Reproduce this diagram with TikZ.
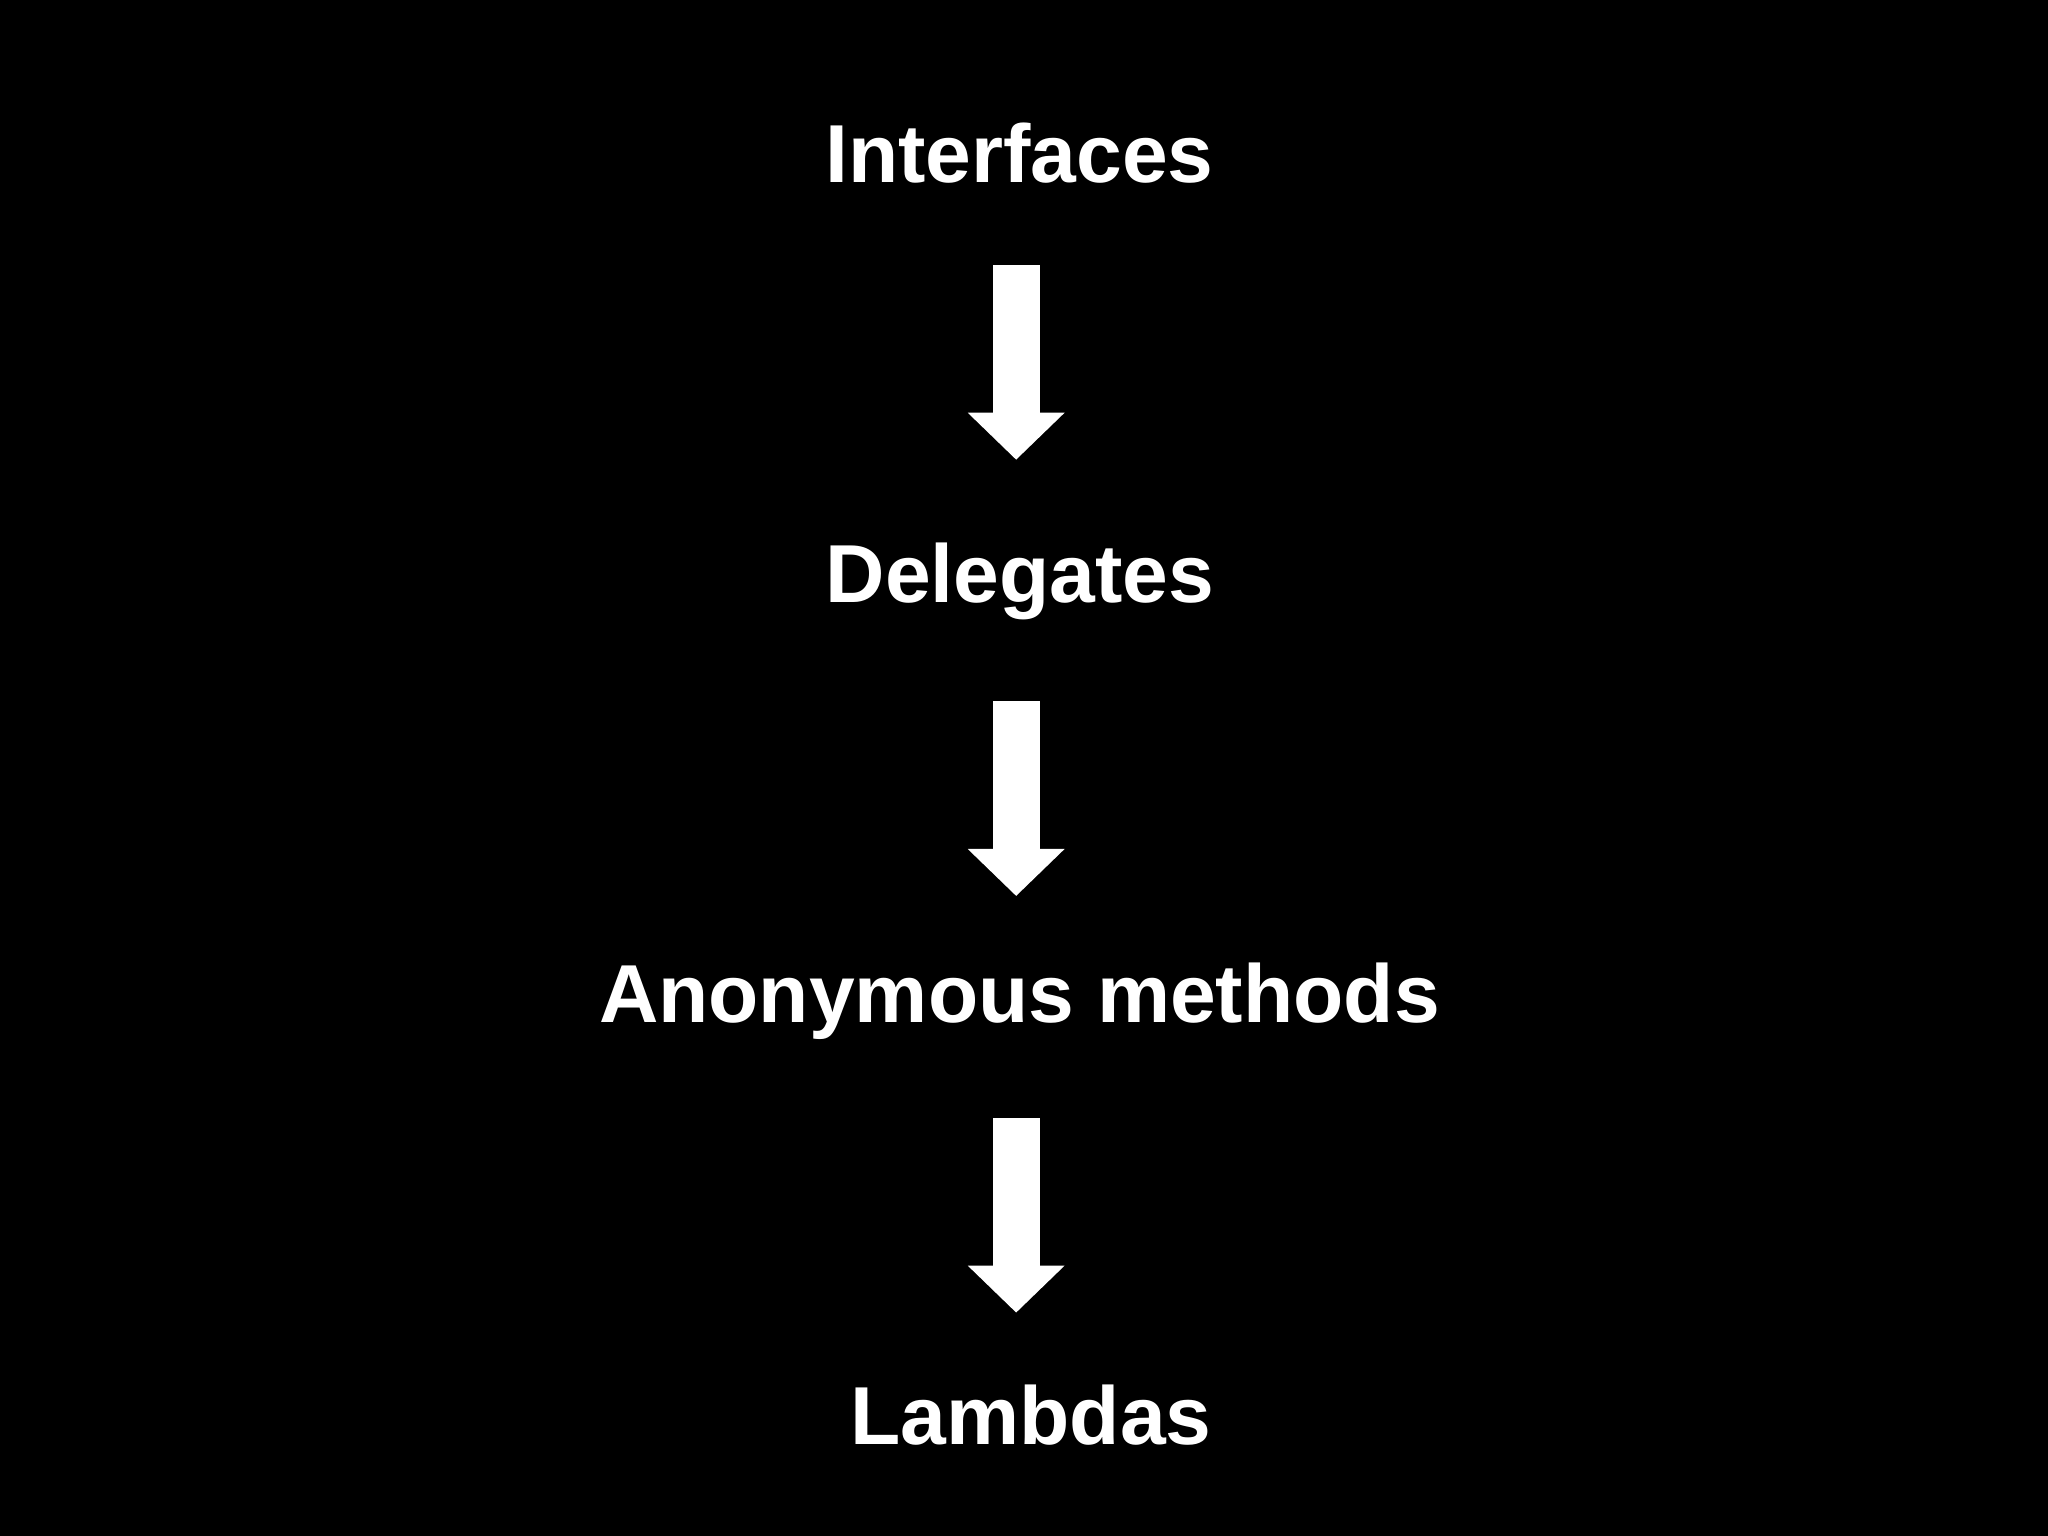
\documentclass[tikz,border=0pt]{standalone}
\usepackage{fontspec}
\setmainfont{Liberation Sans}
\usetikzlibrary{arrows.meta}
\tikzset{step label/.style={anchor=base, text=white, font=\bfseries\fontsize{23.4}{28}\selectfont},
  fat arrow/.style={white, line width=0.47cm, -{Triangle[width=0.94cm,length=0.47cm]}}}
\begin{document}
\begin{tikzpicture}[x=0.01306cm, y=-0.01306cm]
        \fill[black] (0,0) rectangle (1568,1176);
        \node (iface) [step label] at (780.5,140) {Interfaces};
        \node (deleg) [step label] at (781,461) {Delegates};
        \node (anon) [step label] at (780.5,783) {Anonymous methods};
        \node (lamb) [step label] at (789.5,1106) {Lambdas};
        \coordinate (a1) at (778,203); \coordinate (b1) at (778,352);
        \coordinate (a2) at (778,537); \coordinate (b2) at (778,686);
        \coordinate (a3) at (778,856); \coordinate (b3) at (778,1005);

        \draw [fat arrow] (a1) -- (b1);
        \draw [fat arrow] (a2) -- (b2);
        \draw [fat arrow] (a3) -- (b3);
    \end{tikzpicture}
\end{document}
